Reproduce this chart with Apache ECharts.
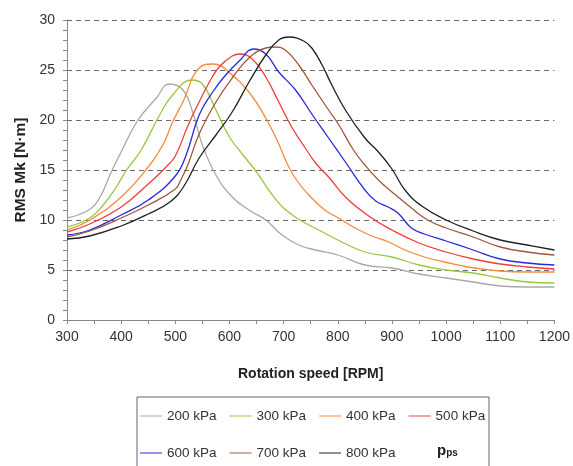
<!DOCTYPE html>
<html>
<head>
<meta charset="utf-8">
<script src="https://cdn.jsdelivr.net/npm/echarts@6/dist/echarts.min.js"></script>
<style>
html,body{margin:0;padding:0;background:#fff;}
#chart{width:573px;height:466px;}
</style>
</head>
<body>
<div id="chart"></div>
<script>
// Pressure labels (legend)
const seriesNames = ['200 kPa','300 kPa','400 kPa','500 kPa','600 kPa','700 kPa','800 kPa'];
const seriesColors = ['#a8a8a8','#99c83c','#f7893c','#f03c3c','#2a2ad8','#a0583a','#202020'];

// Rotation speed [RPM] and RMS Mk [N·m] for each pressure
const rpm200 = [300,340,360,380,400,430,465,489,514,532,550,575,605,636,667,697,728,759,800,850,900,950,1000,1050,1100,1150,1200];
const mk200  = [10.2,11,12.2,14.6,16.8,19.9,22.2,23.6,23,20.8,17.5,14.5,12.3,11,10,8.5,7.5,7,6.5,5.5,5.2,4.6,4.2,3.8,3.4,3.3,3.3];

const rpm300 = [300,342,367,391,410,437,471,495,530,550,575,600,625,650,675,700,730,765,800,850,900,950,1000,1050,1100,1150,1200];
const mk300  = [9.3,10.2,11.5,13.3,15,17,20.5,22.5,24,23.6,21,18.3,16.5,14.8,12.8,11.2,10,9,8,6.8,6.3,5.5,5.0,4.7,4.2,3.8,3.7];

const rpm400 = [300,342,400,450,477,495,514,544,570,605,636,667,691,706,725,750,776,801,832,863,894,924,960,997,1040,1100,1150,1200];
const mk400  = [9.0,10,12.3,15.3,17.5,19.8,21.8,25.2,25.6,24.5,22.8,20.2,17.6,15.7,13.9,12.3,11,10.2,9.2,8.4,7.8,7,6.3,5.8,5.3,4.9,4.8,4.8];

const rpm500 = [300,342,400,450,483,500,523,544,563,581,605,620,642,667,691,716,740,759,783,814,857,900,950,1000,1050,1100,1150,1200];
const mk500  = [8.8,9.6,11.3,13.6,15.3,16.4,19.4,21.8,23.8,25.3,26.4,26.6,26.1,24.3,21.8,19.2,17.2,15.7,14.3,12.3,10.4,9.0,7.7,6.8,6.1,5.6,5.3,5.1];

const rpm600 = [300,342,400,450,500,520,544,569,593,618,645,667,691,722,752,783,814,850,870,893,911,936,960,1000,1050,1100,1150,1200];
const mk600  = [8.5,9.0,10.5,12.0,14.4,16.5,20.5,22.8,24.5,25.9,27.1,26.6,24.8,23,20.6,18.2,15.8,13.0,11.9,11.3,10.7,9.2,8.6,7.9,7.0,6.1,5.7,5.5];

const rpm700 = [300,342,400,450,500,510,523,544,575,605,636,667,683,703,728,752,783,801,829,850,875,900,936,966,1000,1050,1100,1150,1200];
const mk700  = [8.3,8.9,10.2,11.5,13.1,14,15.5,18.6,21.8,24.2,26.2,27.2,27.3,27,25.5,23.5,21,19.6,17,15.5,14,12.8,11.2,10,9.2,8.3,7.3,6.8,6.5];

const rpm800 = [300,342,400,450,490,515,544,575,605,636,667,691,710,737,752,771,789,814,850,875,900,924,955,1000,1050,1100,1150,1200];
const mk800  = [8.1,8.4,9.4,10.6,11.8,13.3,16.2,18.5,20.8,23.8,26.5,28,28.3,27.9,27.2,25.5,23.5,21,18.2,16.8,15.1,13,11.4,10,8.9,8,7.5,7];

const rpmSets = [rpm200,rpm300,rpm400,rpm500,rpm600,rpm700,rpm800];
const mkSets  = [mk200,mk300,mk400,mk500,mk600,mk700,mk800];

const xTicks = {min:300, max:1200, interval:100};
const yTicks = {min:0, max:30, interval:5};

const chart = echarts.init(document.getElementById('chart'), null, {renderer:'canvas'});

const series = seriesNames.map((name,i)=>({
  name: name,
  type: 'line',
  smooth: 0.45,
  symbol: 'none',
  data: rpmSets[i].map((x,j)=>[x, mkSets[i][j]]),
  lineStyle: {color: seriesColors[i], width: 1.3},
  itemStyle: {color: seriesColors[i]},
  z: 3
}));

const fontFam = 'Liberation Sans, Arial, sans-serif';

chart.setOption({
  animation: false,
  backgroundColor: '#ffffff',
  grid: {left: 67, right: 16, top: 20, bottom: 146, containLabel: false},
  xAxis: {
    type: 'value',
    min: xTicks.min, max: xTicks.max, interval: xTicks.interval,
    name: 'Rotation speed [RPM]',
    nameLocation: 'middle',
    nameGap: 47,
    nameTextStyle: {fontFamily: fontFam, fontWeight: 'bold', fontSize: 14, color: '#222'},
    axisLine: {show: true, lineStyle: {color: '#888', width: 1}},
    axisTick: {show: true, length: 4, lineStyle: {color: '#888'}},
    minorTick: {show: true, splitNumber: 2, length: 4, lineStyle: {color: '#888'}},
    axisLabel: {fontFamily: fontFam, fontSize: 14, color: '#333', margin: 10, formatter: v => String(v)},
    splitLine: {show: false}
  },
  yAxis: {
    type: 'value',
    min: yTicks.min, max: yTicks.max, interval: yTicks.interval,
    name: 'RMS Mk [N·m]',
    nameLocation: 'middle',
    nameGap: 37,
    nameRotate: 90,
    nameTextStyle: {fontFamily: fontFam, fontWeight: 'bold', fontSize: 15.5, color: '#222'},
    axisLine: {show: true, lineStyle: {color: '#888', width: 1}},
    axisTick: {show: true, length: 4, lineStyle: {color: '#888'}},
    minorTick: {show: true, splitNumber: 5, length: 4, lineStyle: {color: '#888'}},
    axisLabel: {fontFamily: fontFam, fontSize: 14, color: '#333', margin: 12},
    splitLine: {show: true, lineStyle: {color: '#6a6a6a', type: [5,4], width: 1}}
  },
  legend: [
    {
      data: seriesNames.slice(0,4),
      left: 135, top: 404,
      itemWidth: 22, itemHeight: 10, itemGap: 13,
      textStyle: {fontFamily: fontFam, fontSize: 13.5, color: '#333'},
      icon: 'path://M0,5 L22,5 L22,6 L0,6 Z'
    },
    {
      data: seriesNames.slice(4),
      left: 135, top: 441,
      itemWidth: 22, itemHeight: 10, itemGap: 13,
      textStyle: {fontFamily: fontFam, fontSize: 13.5, color: '#333'},
      icon: 'path://M0,5 L22,5 L22,6 L0,6 Z'
    }
  ],
  graphic: [
    {type: 'rect', shape: {x: 137, y: 397, width: 352, height: 80}, style: {fill: 'none', stroke: '#666', lineWidth: 1}, z: 0},
    {type: 'text', left: 437, top: 443, style: {
      text: '{p|p}{s|ps}',
      rich: {
        p: {fontFamily: fontFam, fontWeight: 'bold', fontSize: 15, fill: '#222'},
        s: {fontFamily: fontFam, fontWeight: 'bold', fontSize: 10, fill: '#222', padding: [6,0,0,0]}
      }
    }}
  ],
  series: series
});
</script>
</body>
</html>
